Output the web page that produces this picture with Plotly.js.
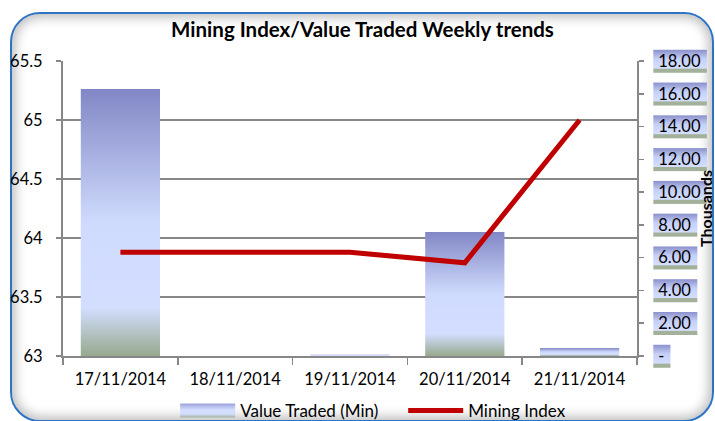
<!DOCTYPE html>
<html>
<head>
<meta charset="utf-8">
<script src="https://cdn.plot.ly/plotly-3.0.1.min.js"></script>
<style>
  html, body { margin: 0; padding: 0; background: #ffffff; }
  #wrap { position: relative; width: 715px; height: 421px; overflow: hidden; background: #ffffff; }
  #frame {
    position: absolute; left: 10px; top: 12px; width: 704px; height: 410px;
    box-sizing: border-box;
    border: 2px solid #2f74c4; border-radius: 30px;
    box-shadow: inset 0 0 12px 3px rgba(0,0,0,0.28);
    background: #ffffff;
  }
  #chart { position: absolute; left: 0; top: 0; width: 715px; height: 421px; }
</style>
</head>
<body>
<div id="wrap">
  <div id="frame"></div>
  <div id="chart"></div>
</div>
<script>
// ---- data ----
var dates = ['17/11/2014', '18/11/2014', '19/11/2014', '20/11/2014', '21/11/2014'];
var valueTraded = [16290, 0, 80, 7570, 490];          // right axis (units)
var miningIndex = [63.88, 63.88, 63.88, 63.79, 65.00]; // left axis
var rightTickVals = [0, 2000, 4000, 6000, 8000, 10000, 12000, 14000, 16000, 18000];
var rightTickText = ['-', '2.00', '4.00', '6.00', '8.00', '10.00', '12.00', '14.00', '16.00', '18.00'];
var leftTickVals = [63, 63.5, 64, 64.5, 65, 65.5];
var leftTickText = ['63', '63.5', '64', '64.5', '65', '65.5'];

var FONT = 'Lato, "Open Sans", sans-serif';
var GRID = '#878787';
var TICKSIZE = 16.5;

var traces = [
  {
    type: 'bar', name: 'Value Traded (Min)', x: dates, y: valueTraded,
    yaxis: 'y', marker: { color: '#b9c3f0', line: { width: 0 } },
    hoverinfo: 'skip'
  },
  {
    type: 'scatter', mode: 'lines', name: 'Mining Index', x: dates, y: miningIndex,
    yaxis: 'y2', line: { color: '#c00000', width: 5 },
    hoverinfo: 'skip'
  }
];

var layout = {
  width: 715, height: 421,
  paper_bgcolor: 'rgba(0,0,0,0)', plot_bgcolor: '#ffffff',
  margin: { l: 63, r: 78, t: 61, b: 65, pad: 0 },
  font: { family: FONT, size: TICKSIZE, color: '#000000' },
  title: {
    text: '<b>Mining Index/Value Traded Weekly trends</b>',
    font: { family: FONT, size: 20.5, color: '#000000' },
    x: 0.507, xanchor: 'center', y: 0.93, yanchor: 'middle', automargin: false
  },
  bargap: 0.31,
  showlegend: true,
  legend: {
    orientation: 'h', x: 0.245, xanchor: 'left', xref: 'container',
    y: 0.0238, yanchor: 'middle', yref: 'container',
    font: { family: FONT, size: 17 }, bgcolor: 'rgba(0,0,0,0)', itemwidth: 55,
    entrywidth: 158, entrywidthmode: 'pixels',
    traceorder: 'normal'
  },
  xaxis: {
    type: 'category', showgrid: false, showline: true, linecolor: GRID, linewidth: 2,
    ticks: 'outside', tickson: 'boundaries', ticklen: 7, tickcolor: GRID, tickwidth: 1.5,
    tickfont: { family: FONT, size: TICKSIZE }, ticklabelstandoff: 7, zeroline: false,
    automargin: false, fixedrange: true
  },
  yaxis: {
    side: 'right', range: [0, 18000], showgrid: false, zeroline: false,
    showline: true, linecolor: GRID, linewidth: 2,
    ticks: 'outside', ticklen: 5, tickcolor: GRID, tickwidth: 1.5,
    tickmode: 'array', tickvals: rightTickVals, ticktext: rightTickText,
    tickfont: { family: FONT, size: TICKSIZE }, ticklabelstandoff: 11,
    title: { text: '<b>Thousands</b>', font: { family: FONT, size: 16 }, standoff: 1 },
    automargin: false, fixedrange: true
  },
  yaxis2: {
    side: 'left', overlaying: 'y', range: [63, 65.5],
    showgrid: true, gridcolor: GRID, gridwidth: 2, zeroline: false,
    showline: true, linecolor: GRID, linewidth: 2,
    ticks: 'outside', ticklen: 5, tickcolor: GRID, tickwidth: 1.5,
    tickmode: 'array', tickvals: leftTickVals, ticktext: leftTickText,
    tickfont: { family: FONT, size: TICKSIZE }, ticklabelstandoff: 10,
    automargin: false, fixedrange: true
  }
};

var NS = 'http://www.w3.org/2000/svg';
function addGradient(defs, id, stops) {
  var g = document.createElementNS(NS, 'linearGradient');
  g.setAttribute('id', id);
  g.setAttribute('x1', '0'); g.setAttribute('y1', '0');
  g.setAttribute('x2', '0'); g.setAttribute('y2', '1');
  stops.forEach(function (s) {
    var st = document.createElementNS(NS, 'stop');
    st.setAttribute('offset', s[0]);
    st.setAttribute('stop-color', s[1]);
    g.appendChild(st);
  });
  defs.appendChild(g);
}

function decorate(gd) {
  var svg = gd.querySelector('svg.main-svg');
  var svgRect = svg.getBoundingClientRect();
  var defs = svg.querySelector('defs') || svg.insertBefore(document.createElementNS(NS, 'defs'), svg.firstChild);
  addGradient(defs, 'barGrad', [['0', '#8187c5'], ['0.5', '#cfdbfd'], ['0.82', '#d3deff'], ['1', '#97a98d']]);
  addGradient(defs, 'lblGrad', [['0', '#8a90cc'], ['0.4', '#c6d0f7'], ['0.8', '#d3deff'], ['0.84', '#a3b19b'], ['1', '#a3b19b']]);
  addGradient(defs, 'legGrad', [['0', '#9aa2da'], ['0.45', '#d3deff'], ['0.75', '#d3deff'], ['1', '#a3b19b']]);

  gd.querySelectorAll('.barlayer .point path').forEach(function (p) {
    p.style.fill = 'url(#barGrad)';
  });

  // label boxes behind right-axis tick labels (placed under the cartesian layer)
  var boxLayer = document.createElementNS(NS, 'g');
  gd.querySelectorAll('g.ytick text').forEach(function (t) {
    var bb = t.getBoundingClientRect();
    var r = document.createElementNS(NS, 'rect');
    r.setAttribute('x', bb.left - svgRect.left - 5);
    r.setAttribute('y', bb.top - svgRect.top - 1);
    r.setAttribute('width', bb.width + 11);
    r.setAttribute('height', bb.height + 3);
    r.setAttribute('fill', 'url(#lblGrad)');
    boxLayer.appendChild(r);
  });
  var cart = svg.querySelector('.cartesianlayer');
  svg.insertBefore(boxLayer, cart);

  // wide gradient swatch for the bar legend entry, same span as the line swatch
  var legendTraces = gd.querySelectorAll('.legend .traces');
  if (legendTraces.length === 2) {
    var linePath = legendTraces[1].querySelector('path.js-line');
    var barText = legendTraces[0].querySelector('text.legendtext');
    var lineText = legendTraces[1].querySelector('text.legendtext');
    if (linePath && barText && lineText) {
      var lr = linePath.getBoundingClientRect();
      var ltr = lineText.getBoundingClientRect();
      var btr = barText.getBoundingClientRect();
      var offset = ltr.left - lr.left;
      var sw = document.createElementNS(NS, 'rect');
      var cy = (btr.top + btr.bottom) / 2 - svgRect.top + ((lr.top + lr.bottom) / 2 - (ltr.top + ltr.bottom) / 2);
      sw.setAttribute('x', btr.left - offset - svgRect.left);
      sw.setAttribute('y', cy - 7);
      sw.setAttribute('width', lr.width);
      sw.setAttribute('height', 14);
      sw.setAttribute('fill', 'url(#legGrad)');
      legendTraces[0].querySelectorAll('.legendpoints path, .legendbar path, path.legendundefined').forEach(function (p) {
        p.style.opacity = 0;
      });
      svg.appendChild(sw);
    }
  }
}

Plotly.newPlot('chart', traces, layout, { displayModeBar: false, staticPlot: true }).then(function (gd) {
  decorate(gd);
});
</script>
</body>
</html>
